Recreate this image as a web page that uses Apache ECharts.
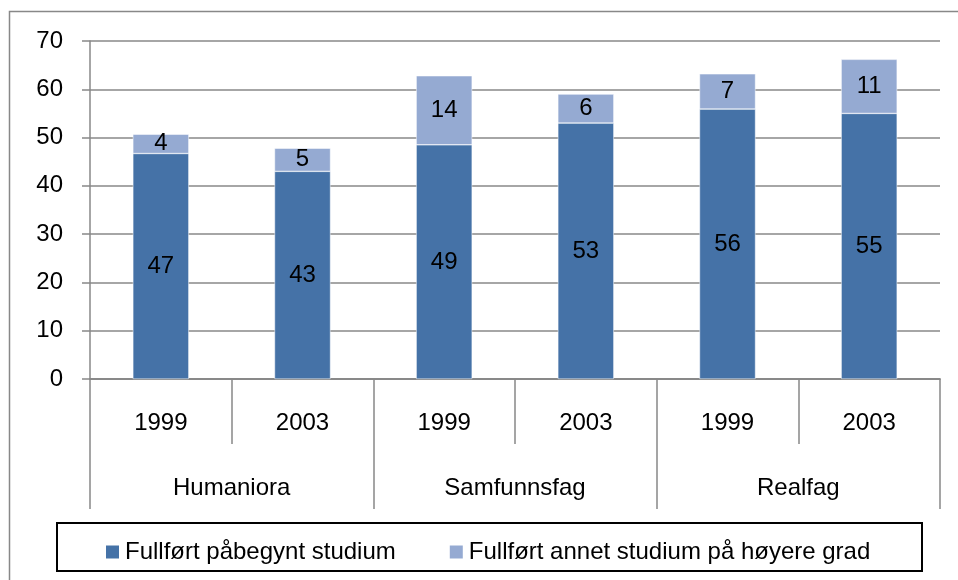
<!DOCTYPE html>
<html>
<head>
<meta charset="utf-8">
<script src="https://cdn.jsdelivr.net/npm/echarts@6/dist/echarts.min.js"></script>
<style>
    html, body { margin: 0; padding: 0; background: #ffffff; }
    #char1 { width: 958px; height: 580px; }
</style>
</head>
<body>
<div id="char1"></div>
<script>
// data
var years = ["1999", "2003", "1999", "2003", "1999", "2003"];
var groups = ["Humaniora", "Samfunnsfag", "Realfag"];
var seriesNames = ["Fullført påbegynt studium", "Fullført annet studium på høyere grad"];
var paabegynt = [46.7, 43.0, 48.5, 53.0, 55.9, 55.0];
var annet = [4.0, 4.8, 14.3, 6.0, 7.3, 11.2];
var yTicks = [0, 70, 10];

char1();

function char1() {
    var myChart = echarts.init(document.getElementById("char1"));
    var font = "Liberation Sans";
    var grey = "#888888";

    var labelStyle = {
        show: true,
        position: "inside",
        color: "#000000",
        fontFamily: font,
        fontSize: 24,
        formatter: function (p) {
            return Math.round(p.value);
        },
    };

    var option = {
        animation: false,
        textStyle: { fontFamily: font },
        graphic: [
            {
                // chart area border (only left/top visible)
                type: "rect",
                shape: { x: 9.5, y: 11.5, width: 1200, height: 1200 },
                style: { fill: null, stroke: grey, lineWidth: 1.5 },
                silent: true,
            },
            {
                // legend box
                type: "rect",
                shape: { x: 57, y: 523, width: 865, height: 48 },
                style: { fill: null, stroke: "#000000", lineWidth: 2 },
                silent: true,
            },
        ],
        legend: {
            left: 99,
            top: 535,
            itemWidth: 15,
            itemHeight: 15,
            itemGap: 52,
            icon: "rect",
            textStyle: {
                color: "#000000",
                fontFamily: font,
                fontSize: 24,
                lineHeight: 24,
            },
            data: seriesNames,
        },
        grid: {
            left: 90,
            right: 18,
            top: 41,
            bottom: 201,
        },
        xAxis: [
            {
                type: "category",
                position: "bottom",
                data: years,
                axisLine: { show: true, lineStyle: { color: grey, width: 1.5 } },
                axisTick: {
                    show: true,
                    interval: 0,
                    length: 65,
                    lineStyle: { color: grey, width: 1.5 },
                },
                axisLabel: {
                    interval: 0,
                    margin: 32,
                    color: "#000000",
                    fontFamily: font,
                    fontSize: 24,
                },
            },
            {
                type: "category",
                position: "bottom",
                data: groups,
                axisLine: { show: true, lineStyle: { color: grey, width: 1.5 } },
                axisTick: {
                    show: true,
                    interval: 0,
                    length: 130,
                    lineStyle: { color: grey, width: 1.5 },
                },
                axisLabel: {
                    interval: 0,
                    margin: 97,
                    color: "#000000",
                    fontFamily: font,
                    fontSize: 24,
                },
            },
        ],
        yAxis: {
            type: "value",
            min: yTicks[0],
            max: yTicks[1],
            interval: yTicks[2],
            axisLine: { show: true, lineStyle: { color: grey, width: 1.5 } },
            axisTick: { show: true, length: 8, lineStyle: { color: grey, width: 1.5 } },
            axisLabel: {
                margin: 27,
                color: "#000000",
                fontFamily: font,
                fontSize: 24,
            },
            splitLine: { show: true, lineStyle: { color: grey, width: 1.5 } },
        },
        series: [
            {
                name: seriesNames[0],
                type: "bar",
                stack: "total",
                xAxisIndex: 0,
                barWidth: 56,
                itemStyle: { color: "#4572A7", borderColor: "#ffffff", borderWidth: 0.5 },
                label: labelStyle,
                data: paabegynt,
            },
            {
                name: seriesNames[1],
                type: "bar",
                stack: "total",
                xAxisIndex: 0,
                barWidth: 56,
                itemStyle: { color: "#95AAD2", borderColor: "#ffffff", borderWidth: 0.5 },
                label: labelStyle,
                data: annet,
            },
        ],
    };

    myChart.setOption(option);
    window.addEventListener("resize", function () {
        myChart.resize();
    });
}
</script>
</body>
</html>
